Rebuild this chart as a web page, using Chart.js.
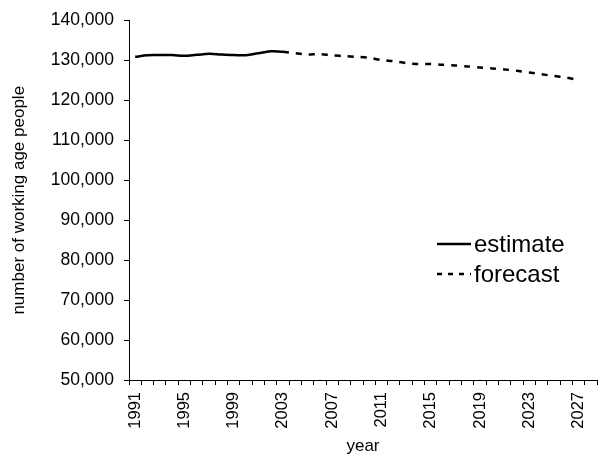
<!DOCTYPE html>
<html>
<head>
<meta charset="utf-8">
<script src="https://cdn.jsdelivr.net/npm/chart.js@4/dist/chart.umd.min.js"></script>
<style>
  html, body { margin: 0; padding: 0; background: #fff; }
  #wrap { width: 598px; height: 457px; }
</style>
</head>
<body>
<div id="wrap"><canvas id="chart"></canvas></div>
<script>
const years = [];
for (let y = 1991; y <= 2028; y++) years.push(String(y));

// 1991 - 2003
const estimate = [130900, 131300, 131350, 131350, 131150, 131400, 131650, 131500, 131350, 131300, 131800, 132300, 132200];
// 2003 - 2027
const forecast = [132200, 131800, 131500, 131600, 131250, 131100, 130900, 130650, 130100, 129800, 129350, 129100, 129100,
                  128900, 128750, 128500, 128250, 128000, 127750, 127400, 127000, 126550, 126100, 125700, 125100];

const estimateData = years.map((y, i) => i < estimate.length ? estimate[i] : null);
const forecastData = years.map((y, i) => {
    const j = i - (estimate.length - 1);
    return j >= 0 && j < forecast.length ? forecast[j] : null;
});

const font = 'Liberation Sans, Arial, sans-serif';

const insideLegend = {
    id: 'insideLegend',
    afterDraw(chart) {
        const ctx = chart.ctx;
        const rows = [244, 274];
        ctx.save();
        chart.data.datasets.forEach((ds, i) => {
            const y = rows[i];
            ctx.beginPath();
            ctx.strokeStyle = ds.borderColor;
            ctx.lineWidth = ds.borderWidth;
            ctx.setLineDash(ds.borderDash ? [5, 6] : []);
            ctx.moveTo(437, y);
            ctx.lineTo(471, y);
            ctx.stroke();
            ctx.setLineDash([]);
            ctx.fillStyle = '#000';
            ctx.font = '24px ' + font;
            ctx.textBaseline = 'middle';
            ctx.fillText(ds.label, 474, y + 1);
        });
        ctx.restore();
    }
};

new Chart(document.getElementById('chart'), {
    type: 'line',
    data: {
        labels: years,
        datasets: [
            {
                label: 'estimate',
                data: estimateData,
                borderColor: '#000',
                borderWidth: 2.5,
                pointRadius: 0,
                tension: 0.4
            },
            {
                label: 'forecast',
                data: forecastData,
                borderColor: '#000',
                borderWidth: 2.5,
                borderDash: [6, 7],
                pointRadius: 0,
                tension: 0.3
            }
        ]
    },
    options: {
        responsive: true,
        maintainAspectRatio: false,
        animation: false,
        layout: { padding: { top: 18, right: 1, left: 0, bottom: 0 } },
        plugins: {
            legend: { display: false },
            tooltip: { enabled: false }
        },
        scales: {
            x: {
                offset: true,
                afterFit: scale => {
                    scale.height = 77;
                    scale.paddingLeft = 0;
                    scale.paddingRight = 0;
                },
                grid: {
                    display: true,
                    offset: true,
                    drawOnChartArea: false,
                    drawTicks: true,
                    tickLength: 5,
                    color: '#000'
                },
                border: { color: '#000', width: 1 },
                ticks: {
                    autoSkip: false,
                    maxRotation: 90,
                    minRotation: 90,
                    padding: 7,
                    color: '#000',
                    font: { family: font, size: 16.5 },
                    callback: function (value, index) {
                        return index % 4 === 0 ? this.getLabelForValue(value) : '';
                    }
                },
                title: {
                    display: true,
                    text: 'year',
                    color: '#000',
                    font: { family: font, size: 17 },
                    padding: { top: 0, bottom: 0 }
                }
            },
            y: {
                min: 50000,
                max: 140000,
                afterFit: scale => { scale.width = 129; },
                grid: {
                    display: true,
                    drawOnChartArea: false,
                    drawTicks: true,
                    tickLength: 5,
                    color: '#000'
                },
                border: { color: '#000', width: 1 },
                ticks: {
                    stepSize: 10000,
                    padding: 10,
                    color: '#000',
                    font: { family: font, size: 17.5 },
                    callback: v => v.toLocaleString('en-US')
                },
                title: {
                    display: true,
                    text: 'number of working age people',
                    color: '#000',
                    font: { family: font, size: 17 },
                    padding: { top: 9, bottom: 0 }
                }
            }
        }
    },
    plugins: [insideLegend]
});
</script>
</body>
</html>
